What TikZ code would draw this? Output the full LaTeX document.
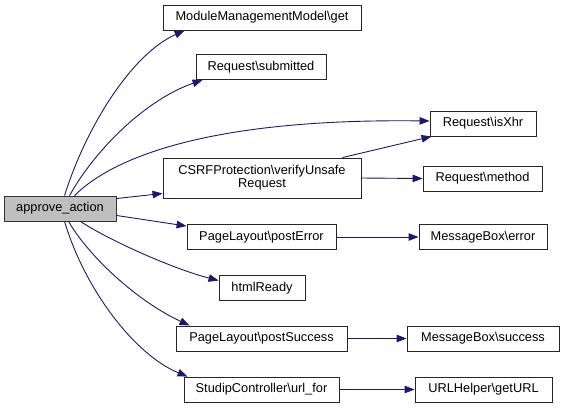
\documentclass[tikz,border=0pt]{standalone}
\usepackage{fontspec}
\setmainfont{Liberation Sans}
\usetikzlibrary{arrows.meta,calc}
\definecolor{edgeblue}{HTML}{191970}
\definecolor{mainfill}{HTML}{BFBFBF}
\begin{document}
\begin{tikzpicture}[x=1pt,y=-1pt,
  box/.style={draw=black!85,line width=0.9pt,fill=white,inner sep=0pt,minimum height=25pt,
    font=\fontsize{12.8}{14}\selectfont,align=center},
  mainbox/.style={box,fill=mainfill,draw=black!80},
  edge/.style={draw=edgeblue,line width=0.9pt,-{Triangle[length=10pt,width=7.5pt]}}]
\useasboundingbox (0,0) rectangle (564,408);
\node[mainbox,minimum width=112pt] (main) at (60,208.5) {approve\_action};
\node[box,minimum width=198pt] (mmg) at (262,17.5) {ModuleManagementModel\textbackslash get};
\node[box,minimum width=130pt] (sub) at (261,67) {Request\textbackslash submitted};
\node[box,minimum width=106pt] (isx) at (483,123.5) {Request\textbackslash isXhr};
\node[box,minimum width=198pt,minimum height=40pt] (csrf) at (262,178) {CSRFProtection\textbackslash verifyUnsafe\\[-1pt]Request};
\node[box,minimum width=119pt] (meth) at (482.5,178.5) {Request\textbackslash method};
\node[box,minimum width=149pt] (perr) at (261.5,237) {PageLayout\textbackslash postError};
\node[box,minimum width=128pt] (merr) at (483,237) {MessageBox\textbackslash error};
\node[box,minimum width=86pt] (html) at (262,288) {htmlReady};
\node[box,minimum width=171pt] (psucc) at (261.5,338.5) {PageLayout\textbackslash postSuccess};
\node[box,minimum width=152pt] (msucc) at (483,338.5) {MessageBox\textbackslash success};
\node[box,minimum width=155pt] (url) at (261.5,389.5) {StudipController\textbackslash url\_for};
\node[box,minimum width=137pt] (gurl) at (483.5,389.5) {URLHelper\textbackslash getURL};

\path[edge] ($(main.north west)+(61,0)$) .. controls (85,130) and (130,55) .. ($(mmg.south west)+(22,0)$);
\path[edge] ($(main.north west)+(66,0)$) .. controls (95,150) and (145,100) .. ($(sub.south west)+(7,0)$);
\path[edge] ($(main.north west)+(71,0)$) .. controls (105,165) and (190,118) .. ($(isx.west)+(0,-2.5)$);
\path[edge] ($(main.north east)+(0,3)$) -- ($(csrf.south west)+(0,-5)$);
\path[edge] ($(main.south east)+(0,-6)$) -- ($(perr.north west)+(0,2)$);
\path[edge] ($(main.south west)+(77,0)$) .. controls (105,238) and (170,268) .. ($(html.north west)+(0,5.5)$);
\path[edge] ($(main.south west)+(65,0)$) .. controls (88,255) and (135,300) .. ($(psucc.north west)+(14,0)$);
\path[edge] ($(main.south west)+(61,0)$) .. controls (85,290) and (135,355) .. ($(url.north west)+(4,0)$);
\path[edge] ($(csrf.north east)+(-19,0)$) -- ($(isx.south west)+(2,0)$);
\path[edge] (csrf.east) -- (meth.west);
\path[edge] (perr.east) -- (merr.west);
\path[edge] (psucc.east) -- (msucc.west);
\path[edge] (url.east) -- (gurl.west);
\end{tikzpicture}
\end{document}
